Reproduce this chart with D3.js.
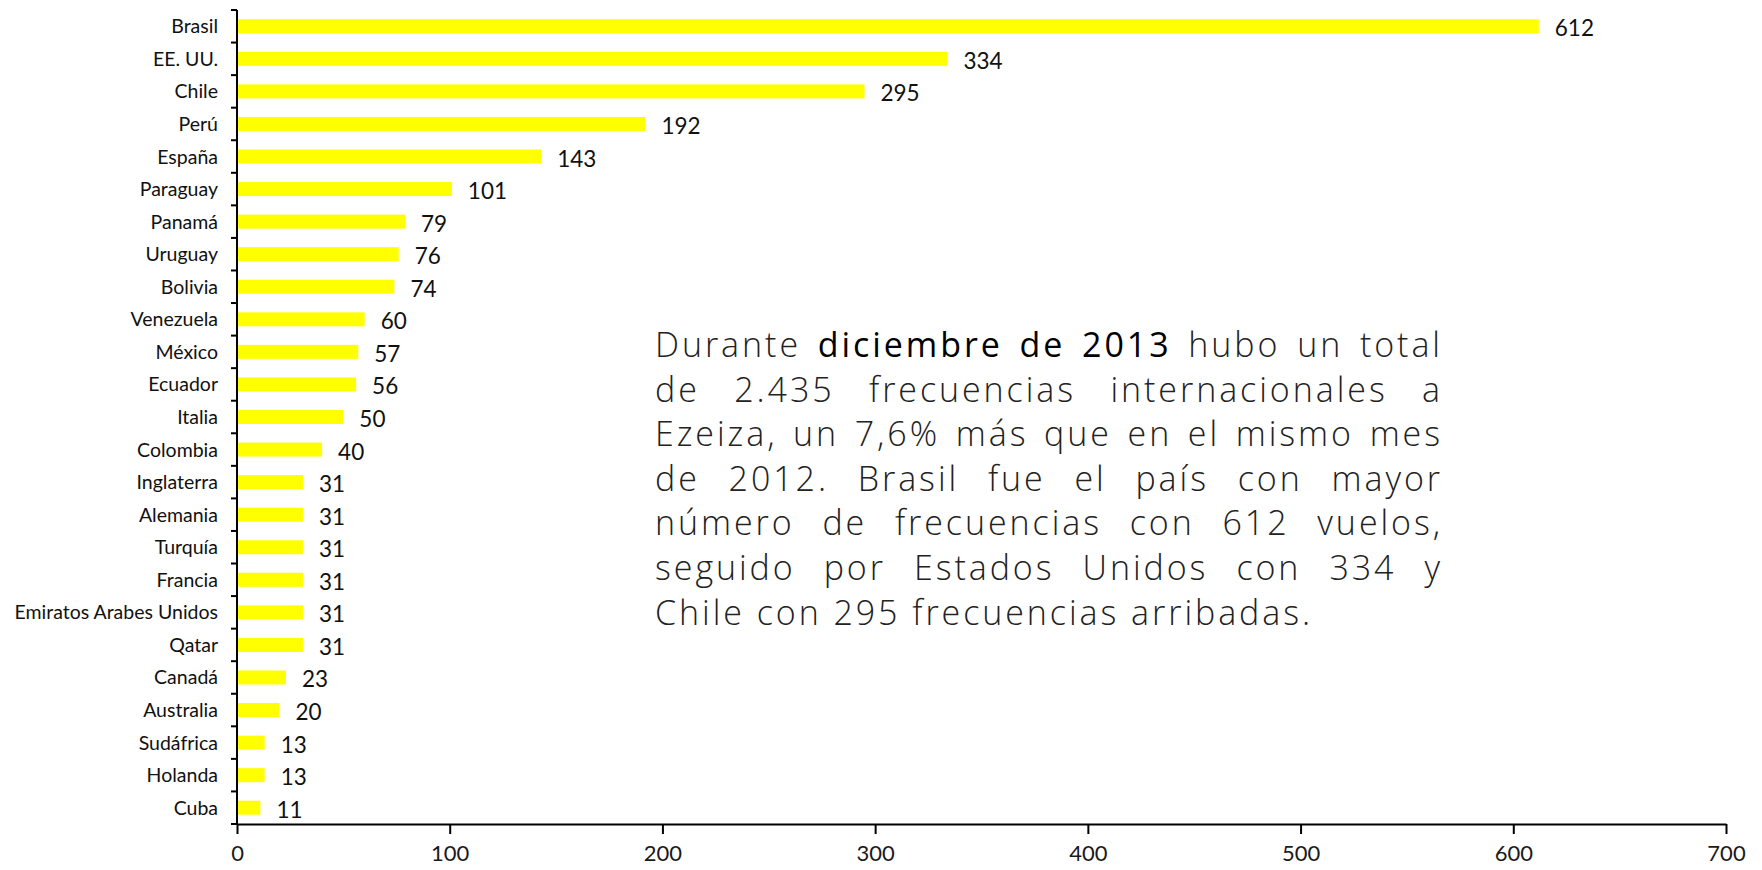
<!DOCTYPE html>
<html>
<head>
<meta charset="utf-8">
<script src="https://cdn.jsdelivr.net/npm/d3@7/dist/d3.min.js"></script>
<style>
  body { margin: 0; background: #fff; }
  svg { display: block; }
</style>
</head>
<body>
<div id="chart"></div>
<script>
const width = 1762;
const height = 870;

// data
const countries = ["Brasil", "EE. UU.", "Chile", "Perú", "España", "Paraguay", "Panamá",
  "Uruguay", "Bolivia", "Venezuela", "México", "Ecuador", "Italia", "Colombia",
  "Inglaterra", "Alemania", "Turquía", "Francia", "Emiratos Arabes Unidos", "Qatar",
  "Canadá", "Australia", "Sudáfrica", "Holanda", "Cuba"];
const flights = [612, 334, 295, 192, 143, 101, 79, 76, 74, 60, 57, 56, 50, 40,
  31, 31, 31, 31, 31, 31, 23, 20, 13, 13, 11];
const xTicks = [0, 100, 200, 300, 400, 500, 600, 700];

// paragraph, one entry per line; words starting with * are bold
const noteLines = [
  "Durante *diciembre *de *2013 hubo un total",
  "de 2.435 frecuencias internacionales a",
  "Ezeiza, un 7,6% más que en el mismo mes",
  "de 2012. Brasil fue el país con mayor",
  "número de frecuencias con 612 vuelos,",
  "seguido por Estados Unidos con 334 y",
  "Chile con 295 frecuencias arribadas."
];

const margin = {left: 237, right: 36, top: 10, bottom: 46};

const svg = d3.select("#chart").append("svg")
  .attr("width", width)
  .attr("height", height);

const x = d3.scaleLinear()
  .domain([0, 700])
  .range([margin.left, 1726]);

const band = d3.scaleBand()
  .domain(countries)
  .range([margin.top, height - margin.bottom]);

const data = countries.map((c, i) => ({country: c, value: flights[i]}));

// bars
svg.selectAll("rect.bar")
  .data(data)
  .enter().append("rect")
  .attr("class", "bar")
  .attr("x", x(0))
  .attr("y", d => band(d.country) + band.bandwidth() / 2 - 7)
  .attr("width", d => x(d.value) - x(0))
  .attr("height", 14)
  .attr("fill", "#ffff00");

// value labels
svg.selectAll("text.val")
  .data(data)
  .enter().append("text")
  .attr("class", "val")
  .attr("x", d => x(d.value) + 16)
  .attr("y", d => band(d.country) + band.bandwidth() / 2 + 10)
  .attr("font-family", "Lato, 'Open Sans', sans-serif")
  .attr("font-size", "22.5px")
  .attr("fill", "#111")
  .text(d => d.value);

// x axis
const xAxis = svg.append("g")
  .attr("transform", "translate(0," + (height - margin.bottom) + ")")
  .call(d3.axisBottom(x).tickValues(xTicks).tickSize(10).tickPadding(11).tickSizeOuter(0));
xAxis.select(".domain").attr("stroke", "#000").attr("stroke-width", 2);
xAxis.selectAll(".tick line").attr("stroke", "#000").attr("stroke-width", 2);
xAxis.selectAll(".tick text")
  .attr("font-family", "Lato, 'Open Sans', sans-serif")
  .attr("font-size", "22px")
  .attr("fill", "#1a1a1a");

// y axis: ticks sit between the categories
const yAxis = svg.append("g")
  .attr("transform", "translate(" + margin.left + ",0)");
yAxis.append("line")
  .attr("x1", 0).attr("x2", 0)
  .attr("y1", margin.top).attr("y2", height - margin.bottom + 1)
  .attr("stroke", "#000").attr("stroke-width", 2);
yAxis.selectAll("line.tk")
  .data(countries.concat(["end"]))
  .enter().append("line")
  .attr("class", "tk")
  .attr("x1", -6).attr("x2", 0)
  .attr("y1", (d, i) => margin.top + i * band.step())
  .attr("y2", (d, i) => margin.top + i * band.step())
  .attr("stroke", "#000").attr("stroke-width", 2);
yAxis.selectAll("text")
  .data(countries)
  .enter().append("text")
  .attr("x", -19)
  .attr("y", d => band(d) + band.bandwidth() / 2 + 7)
  .attr("text-anchor", "end")
  .attr("font-family", "Lato, 'Open Sans', sans-serif")
  .attr("font-size", "19.5px")
  .attr("fill", "#111")
  .text(d => d);

// note paragraph, justified by hand
const note = svg.append("g").attr("class", "note");
const noteLeft = 655, noteRight = 1443, firstBase = 357, lineGap = 44.6;
const noteFont = "'Open Sans', Lato, sans-serif";
const fontSize = 34;

// letter spacing so the last (unjustified) line is as long as in the picture
const lastLine = noteLines[noteLines.length - 1];
const probe = note.append("text")
  .attr("font-family", noteFont).attr("font-weight", 300).attr("font-size", fontSize + "px")
  .text(lastLine);
const spaceW = fontSize * 0.26;
const natural = probe.node().getComputedTextLength();
probe.remove();
const letterSp = (658 - natural) / lastLine.length;

noteLines.forEach((line, li) => {
  const words = line.split(" ").map(w => ({bold: w[0] === "*", text: w.replace("*", "")}));
  const t = note.append("text")
    .attr("y", firstBase + li * lineGap)
    .attr("font-family", noteFont)
    .attr("font-size", fontSize + "px")
    .attr("letter-spacing", letterSp + "px")
    .attr("fill", "#222");
  const spans = words.map(w => t.append("tspan")
    .attr("font-weight", w.bold ? 500 : 300)
    .attr("fill", w.bold ? "#000" : "#222")
    .text(w.text));
  const widths = spans.map(s => s.node().getComputedTextLength());
  let gap = (noteRight - noteLeft - d3.sum(widths)) / (words.length - 1);
  if (li === noteLines.length - 1) gap = spaceW + letterSp;
  let cx = noteLeft;
  spans.forEach((s, i) => {
    s.attr("x", cx);
    cx += widths[i] + gap;
  });
});
</script>
</body>
</html>
